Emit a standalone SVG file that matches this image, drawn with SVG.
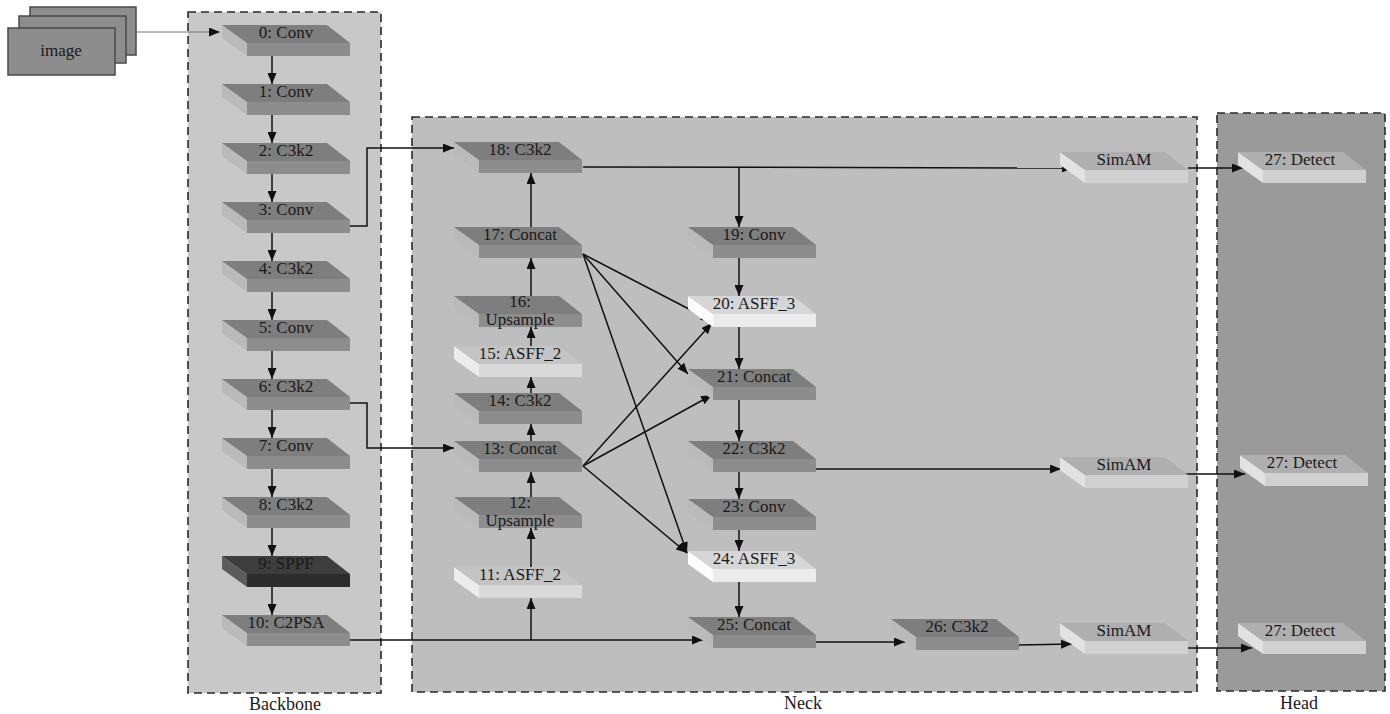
<svg xmlns="http://www.w3.org/2000/svg" width="1390" height="714" viewBox="0 0 1390 714">
<style>
text{font-family:"Liberation Serif","Times New Roman",serif;fill:#1a1a1a}
.node text{font-size:17px;text-anchor:middle}
.cap{font-size:18px;text-anchor:middle}
.box{stroke:#2a2a2a;stroke-width:1.6;stroke-dasharray:8 5}
.g .sd{fill:#bababa}.g .tp{fill:#7e7e7e}.g .fr{fill:#8d8d8d}
.k .sd{fill:#5c5c5c}.k .tp{fill:#3d3d3d}.k .fr{fill:#2c2c2c}
.a3 .sd{fill:#fcfcfc}.a3 .tp{fill:#d6d6d6}.a3 .fr{fill:#ececec}
.a2 .sd{fill:#ececec}.a2 .tp{fill:#c4c4c4}.a2 .fr{fill:#d9d9d9}
.s .sd{fill:#e2e2e2}.s .tp{fill:#afafaf}.s .fr{fill:#d0d0d0}
.img rect{fill:#8d8d8d;stroke:#4a4a4a;stroke-width:1.5}
#connectors path{fill:none;stroke:#111;stroke-width:1.5;marker-end:url(#ah)}
#connectors path.thin{stroke:#777;stroke-width:1}
</style>
<defs>
<marker id="ah" markerUnits="userSpaceOnUse" markerWidth="11" markerHeight="9" refX="11" refY="4.5" orient="auto">
<path d="M0,0 L11,4.5 L0,9 z" fill="#111"/>
</marker>
</defs>
<rect width="1390" height="714" fill="#ffffff"/>
<g id="containers">
<rect class="box" x="188" y="12" width="193" height="681" fill="#c8c8c8"/>
<rect class="box" x="412" y="117" width="785" height="575" fill="#bebebe"/>
<rect class="box" x="1217" y="113" width="168" height="578" fill="#9a9a9a"/>
<text class="cap" x="285" y="710">Backbone</text>
<text class="cap" x="803" y="709">Neck</text>
<text class="cap" x="1299" y="709">Head</text>
</g>
<g id="image" class="img">
<rect x="30" y="7" width="106" height="48"/>
<rect x="19" y="16" width="107" height="47"/>
<rect x="8" y="28" width="107" height="47"/>
<text x="61" y="56" style="font-size:17px;text-anchor:middle">image</text>
</g>
<g id="connectors">
<path class="thin" d="M136,32 H220"/>
<path d="M272,56 V84"/><path d="M272,115 V143"/><path d="M272,174 V202"/><path d="M272,233 V261"/><path d="M272,292 V320"/>
<path d="M272,351 V379"/><path d="M272,410 V438"/><path d="M272,469 V497"/><path d="M272,528 V556"/><path d="M272,587 V615"/>
<path d="M349,226 H367 V148 H454"/>
<path d="M349,403 H367 V448 H454"/>
<path d="M349,640 H703"/>
<path d="M531,640 V598"/>
<path d="M531,567 V528"/><path d="M531,497 V472"/><path d="M531,441 V424"/><path d="M531,393 V377"/><path d="M531,346 V327"/><path d="M531,296 V258"/><path d="M531,227 V173"/>
<path d="M583,167 L1073,168"/>
<path d="M739,167 V227"/>
<path d="M739,258 V296"/><path d="M739,327 V369"/><path d="M739,400 V441"/><path d="M739,472 V499"/><path d="M739,530 V551"/><path d="M739,582 V617"/>
<path d="M816,469 H1061"/>
<path d="M816,642 H905"/>
<path d="M1019,645 L1072,644"/>
<path d="M1188,168 H1243"/>
<path d="M1184,474 H1245"/>
<path d="M1188,648 H1252"/>
<path d="M583,254 L712,321"/><path d="M583,254 L688,374"/><path d="M583,254 L687,553"/>
<path d="M583,466 L712,323"/><path d="M583,466 L712,395"/><path d="M583,466 L687,553"/>
</g>
<g id="node-0" class="node g" transform="translate(222,25)"><polygon class="sd" points="0,0 25,18 25,31 0,13"/><polygon class="tp" points="0,0 105,0 128,18 25,18"/><rect class="fr" x="25" y="18" width="103" height="13"/><text x="64" y="13">0: Conv</text></g>
<g id="node-1" class="node g" transform="translate(222,84)"><polygon class="sd" points="0,0 25,18 25,31 0,13"/><polygon class="tp" points="0,0 105,0 128,18 25,18"/><rect class="fr" x="25" y="18" width="103" height="13"/><text x="64" y="13">1: Conv</text></g>
<g id="node-2" class="node g" transform="translate(222,143)"><polygon class="sd" points="0,0 25,18 25,31 0,13"/><polygon class="tp" points="0,0 105,0 128,18 25,18"/><rect class="fr" x="25" y="18" width="103" height="13"/><text x="64" y="13">2: C3k2</text></g>
<g id="node-3" class="node g" transform="translate(222,202)"><polygon class="sd" points="0,0 25,18 25,31 0,13"/><polygon class="tp" points="0,0 105,0 128,18 25,18"/><rect class="fr" x="25" y="18" width="103" height="13"/><text x="64" y="13">3: Conv</text></g>
<g id="node-4" class="node g" transform="translate(222,261)"><polygon class="sd" points="0,0 25,18 25,31 0,13"/><polygon class="tp" points="0,0 105,0 128,18 25,18"/><rect class="fr" x="25" y="18" width="103" height="13"/><text x="64" y="13">4: C3k2</text></g>
<g id="node-5" class="node g" transform="translate(222,320)"><polygon class="sd" points="0,0 25,18 25,31 0,13"/><polygon class="tp" points="0,0 105,0 128,18 25,18"/><rect class="fr" x="25" y="18" width="103" height="13"/><text x="64" y="13">5: Conv</text></g>
<g id="node-6" class="node g" transform="translate(222,379)"><polygon class="sd" points="0,0 25,18 25,31 0,13"/><polygon class="tp" points="0,0 105,0 128,18 25,18"/><rect class="fr" x="25" y="18" width="103" height="13"/><text x="64" y="13">6: C3k2</text></g>
<g id="node-7" class="node g" transform="translate(222,438)"><polygon class="sd" points="0,0 25,18 25,31 0,13"/><polygon class="tp" points="0,0 105,0 128,18 25,18"/><rect class="fr" x="25" y="18" width="103" height="13"/><text x="64" y="13">7: Conv</text></g>
<g id="node-8" class="node g" transform="translate(222,497)"><polygon class="sd" points="0,0 25,18 25,31 0,13"/><polygon class="tp" points="0,0 105,0 128,18 25,18"/><rect class="fr" x="25" y="18" width="103" height="13"/><text x="64" y="13">8: C3k2</text></g>
<g id="node-9" class="node k" transform="translate(222,556)"><polygon class="sd" points="0,0 25,18 25,31 0,13"/><polygon class="tp" points="0,0 105,0 128,18 25,18"/><rect class="fr" x="25" y="18" width="103" height="13"/><text x="64" y="13">9: SPPF</text></g>
<g id="node-10" class="node g" transform="translate(222,615)"><polygon class="sd" points="0,0 25,18 25,31 0,13"/><polygon class="tp" points="0,0 105,0 128,18 25,18"/><rect class="fr" x="25" y="18" width="103" height="13"/><text x="64" y="13">10: C2PSA</text></g>
<g id="node-11" class="node a2" transform="translate(454,567)"><polygon class="sd" points="0,0 25,18 25,31 0,13"/><polygon class="tp" points="0,0 105,0 128,18 25,18"/><rect class="fr" x="25" y="18" width="103" height="13"/><text x="66" y="13">11: ASFF_2</text></g>
<g id="node-12" class="node g" transform="translate(454,497)"><polygon class="sd" points="0,0 25,18 25,31 0,13"/><polygon class="tp" points="0,0 105,0 128,18 25,18"/><rect class="fr" x="25" y="18" width="103" height="13"/><text x="66" y="11">12:</text><text x="66" y="29">Upsample</text></g>
<g id="node-13" class="node g" transform="translate(454,441)"><polygon class="sd" points="0,0 25,18 25,31 0,13"/><polygon class="tp" points="0,0 105,0 128,18 25,18"/><rect class="fr" x="25" y="18" width="103" height="13"/><text x="66" y="13">13: Concat</text></g>
<g id="node-14" class="node g" transform="translate(454,393)"><polygon class="sd" points="0,0 25,18 25,31 0,13"/><polygon class="tp" points="0,0 105,0 128,18 25,18"/><rect class="fr" x="25" y="18" width="103" height="13"/><text x="66" y="13">14: C3k2</text></g>
<g id="node-15" class="node a2" transform="translate(454,346)"><polygon class="sd" points="0,0 25,18 25,31 0,13"/><polygon class="tp" points="0,0 105,0 128,18 25,18"/><rect class="fr" x="25" y="18" width="103" height="13"/><text x="66" y="13">15: ASFF_2</text></g>
<g id="node-16" class="node g" transform="translate(454,296)"><polygon class="sd" points="0,0 25,18 25,31 0,13"/><polygon class="tp" points="0,0 105,0 128,18 25,18"/><rect class="fr" x="25" y="18" width="103" height="13"/><text x="66" y="11">16:</text><text x="66" y="29">Upsample</text></g>
<g id="node-17" class="node g" transform="translate(454,227)"><polygon class="sd" points="0,0 25,18 25,31 0,13"/><polygon class="tp" points="0,0 105,0 128,18 25,18"/><rect class="fr" x="25" y="18" width="103" height="13"/><text x="66" y="13">17: Concat</text></g>
<g id="node-18" class="node g" transform="translate(454,142)"><polygon class="sd" points="0,0 25,18 25,31 0,13"/><polygon class="tp" points="0,0 105,0 128,18 25,18"/><rect class="fr" x="25" y="18" width="103" height="13"/><text x="66" y="13">18: C3k2</text></g>
<g id="node-19" class="node g" transform="translate(688,227)"><polygon class="sd" points="0,0 25,18 25,31 0,13"/><polygon class="tp" points="0,0 105,0 128,18 25,18"/><rect class="fr" x="25" y="18" width="103" height="13"/><text x="66" y="13">19: Conv</text></g>
<g id="node-20" class="node a3" transform="translate(688,296)"><polygon class="sd" points="0,0 25,18 25,31 0,13"/><polygon class="tp" points="0,0 105,0 128,18 25,18"/><rect class="fr" x="25" y="18" width="103" height="13"/><text x="66" y="13">20: ASFF_3</text></g>
<g id="node-21" class="node g" transform="translate(688,369)"><polygon class="sd" points="0,0 25,18 25,31 0,13"/><polygon class="tp" points="0,0 105,0 128,18 25,18"/><rect class="fr" x="25" y="18" width="103" height="13"/><text x="66" y="13">21: Concat</text></g>
<g id="node-22" class="node g" transform="translate(688,441)"><polygon class="sd" points="0,0 25,18 25,31 0,13"/><polygon class="tp" points="0,0 105,0 128,18 25,18"/><rect class="fr" x="25" y="18" width="103" height="13"/><text x="66" y="13">22: C3k2</text></g>
<g id="node-23" class="node g" transform="translate(688,499)"><polygon class="sd" points="0,0 25,18 25,31 0,13"/><polygon class="tp" points="0,0 105,0 128,18 25,18"/><rect class="fr" x="25" y="18" width="103" height="13"/><text x="66" y="13">23: Conv</text></g>
<g id="node-24" class="node a3" transform="translate(688,551)"><polygon class="sd" points="0,0 25,18 25,31 0,13"/><polygon class="tp" points="0,0 105,0 128,18 25,18"/><rect class="fr" x="25" y="18" width="103" height="13"/><text x="66" y="13">24: ASFF_3</text></g>
<g id="node-25" class="node g" transform="translate(688,617)"><polygon class="sd" points="0,0 25,18 25,31 0,13"/><polygon class="tp" points="0,0 105,0 128,18 25,18"/><rect class="fr" x="25" y="18" width="103" height="13"/><text x="66" y="13">25: Concat</text></g>
<g id="node-26" class="node g" transform="translate(891,619)"><polygon class="sd" points="0,0 25,18 25,31 0,13"/><polygon class="tp" points="0,0 105,0 128,18 25,18"/><rect class="fr" x="25" y="18" width="103" height="13"/><text x="66" y="13">26: C3k2</text></g>
<g id="simam-1" class="node s" transform="translate(1060,152)"><polygon class="sd" points="0,0 25,18 25,31 0,13"/><polygon class="tp" points="0,0 105,0 128,18 25,18"/><rect class="fr" x="25" y="18" width="103" height="13"/><text x="64" y="13">SimAM</text></g>
<g id="simam-2" class="node s" transform="translate(1060,457)"><polygon class="sd" points="0,0 25,18 25,31 0,13"/><polygon class="tp" points="0,0 105,0 128,18 25,18"/><rect class="fr" x="25" y="18" width="103" height="13"/><text x="64" y="13">SimAM</text></g>
<g id="simam-3" class="node s" transform="translate(1060,623)"><polygon class="sd" points="0,0 25,18 25,31 0,13"/><polygon class="tp" points="0,0 105,0 128,18 25,18"/><rect class="fr" x="25" y="18" width="103" height="13"/><text x="64" y="13">SimAM</text></g>
<g id="detect-1" class="node s" transform="translate(1238,152)"><polygon class="sd" points="0,0 25,18 25,31 0,13"/><polygon class="tp" points="0,0 105,0 128,18 25,18"/><rect class="fr" x="25" y="18" width="103" height="13"/><text x="62" y="13">27: Detect</text></g>
<g id="detect-2" class="node s" transform="translate(1240,455)"><polygon class="sd" points="0,0 25,18 25,31 0,13"/><polygon class="tp" points="0,0 105,0 128,18 25,18"/><rect class="fr" x="25" y="18" width="103" height="13"/><text x="62" y="13">27: Detect</text></g>
<g id="detect-3" class="node s" transform="translate(1238,623)"><polygon class="sd" points="0,0 25,18 25,31 0,13"/><polygon class="tp" points="0,0 105,0 128,18 25,18"/><rect class="fr" x="25" y="18" width="103" height="13"/><text x="62" y="13">27: Detect</text></g>
</svg>
